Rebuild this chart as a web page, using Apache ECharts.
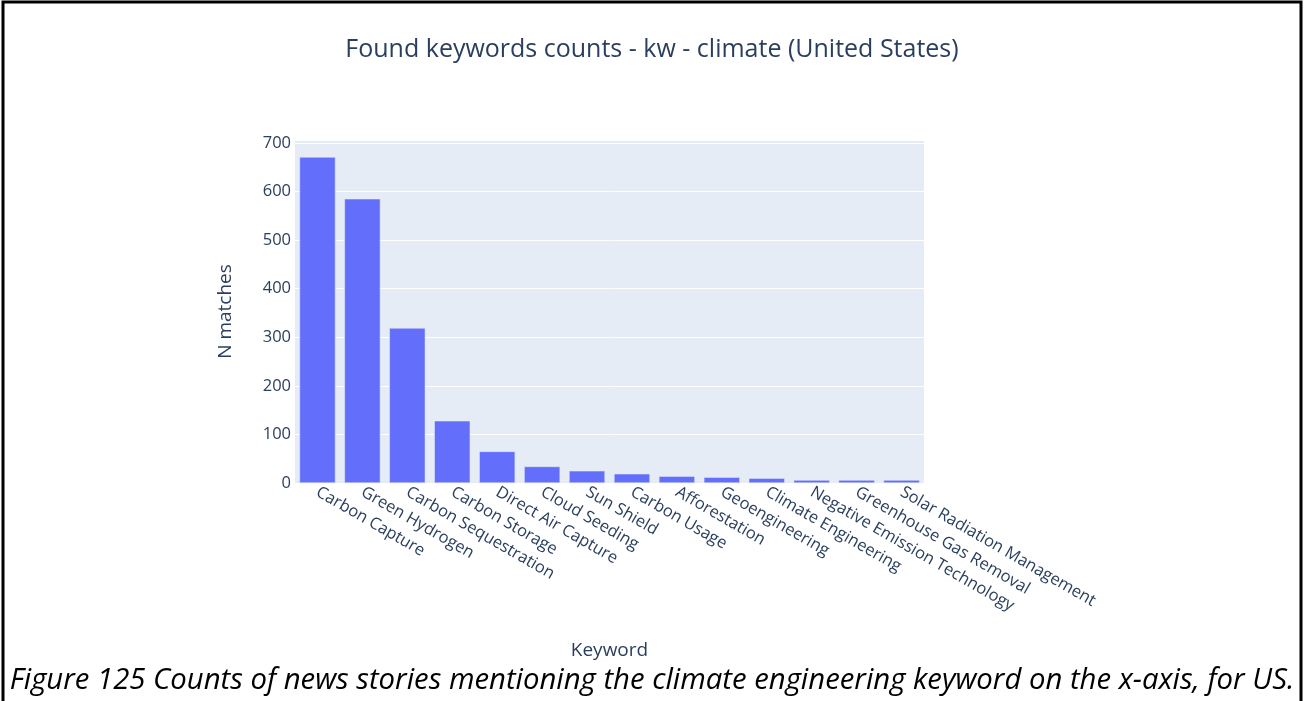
<!DOCTYPE html>
<html>
<head>
<meta charset="utf-8">
<script src="https://cdn.jsdelivr.net/npm/echarts@6/dist/echarts.min.js"></script>
<style>
	html, body { margin: 0; padding: 0; background: #fff; }
	#chart { width: 1304px; height: 701px; }
</style>
</head>
<body>
<div id="chart"></div>
<script>
// keywords on the x axis
var keywords = ["Carbon Capture", "Green Hydrogen", "Carbon Sequestration", "Carbon Storage",
	"Direct Air Capture", "Cloud Seeding", "Sun Shield", "Carbon Usage", "Afforestation",
	"Geoengineering", "Climate Engineering", "Negative Emission Technology",
	"Greenhouse Gas Removal", "Solar Radiation Management"];
// number of matches per keyword
var matches = [671, 585, 319, 128, 65, 34, 25, 19, 14, 12, 10, 6, 6, 6];
var yTicks = [0, 100, 200, 300, 400, 500, 600, 700];

var titleText = "Found keywords counts - kw - climate (United States)";
var captionText = "Figure 125 Counts of news stories mentioning the climate engineering keyword on the x-axis, for US.";

var textColor = "#2a3f5f";
var font = "Open Sans";

var myChart = echarts.init(document.getElementById("chart"));
var option = {
	animation: false,
	backgroundColor: "#ffffff",
	title: [{
		text: titleText,
		left: "center",
		top: 32,
		textStyle: { fontFamily: font, fontSize: 25, fontWeight: "normal", color: textColor }
	}, {
		text: captionText,
		left: "center",
		top: 661,
		textStyle: { fontFamily: font, fontSize: 29.3, fontStyle: "italic", fontWeight: "normal", color: "#000" }
	}],
	graphic: [{
		type: "rect",
		shape: { x: 3, y: 2, width: 1298, height: 720 },
		style: { fill: "none", stroke: "#000", lineWidth: 3 },
		silent: true
	}],
	grid: {
		left: 295,
		right: 380,
		top: 140,
		bottom: 218,
		show: true,
		backgroundColor: "#E5ECF6",
		borderWidth: 0
	},
	xAxis: {
		type: "category",
		data: keywords,
		name: "Keyword",
		nameLocation: "middle",
		nameGap: 158,
		nameTextStyle: { fontFamily: font, fontSize: 19, color: textColor },
		axisLine: { show: false },
		axisTick: { show: false },
		axisLabel: {
			interval: 0,
			rotate: -30,
			margin: 8,
			fontFamily: font,
			fontSize: 16.5,
			color: textColor
		}
	},
	yAxis: {
		type: "value",
		min: 0,
		max: 706,
		interval: 100,
		name: "N matches",
		nameLocation: "middle",
		nameGap: 60,
		nameTextStyle: { fontFamily: font, fontSize: 19, color: textColor },
		axisLine: { show: false },
		axisTick: { show: false },
		axisLabel: {
			showMaxLabel: false,
			margin: 4,
			fontFamily: font,
			fontSize: 16.5,
			color: textColor,
			formatter: function(v) { return yTicks.indexOf(v) >= 0 ? String(v) : ""; }
		},
		splitLine: { lineStyle: { color: "#ffffff", width: 1 } }
	},
	series: [{
		type: "bar",
		data: matches,
		barCategoryGap: "20%",
		itemStyle: { color: "#636EFA", borderColor: "#E5ECF6", borderWidth: 0.5 }
	}]
};
myChart.setOption(option);
</script>
</body>
</html>
